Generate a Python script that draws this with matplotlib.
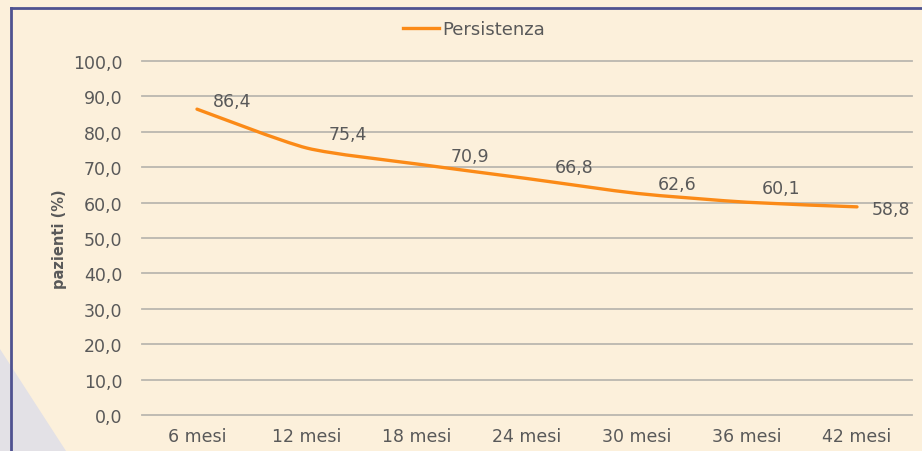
"""
Persistenza nel tempo - line chart, smooth curve like the Excel original.
"""

import matplotlib
matplotlib.use("Agg")
import matplotlib.pyplot as plt
from matplotlib.path import Path
from matplotlib.patches import PathPatch, Polygon
from matplotlib.lines import Line2D

# Data
months = ['6 mesi', '12 mesi', '18 mesi', '24 mesi', '30 mesi', '36 mesi', '42 mesi']
persistenza = [86.4, 75.4, 70.9, 66.8, 62.6, 60.1, 58.8]
y_ticks = [0, 10, 20, 30, 40, 50, 60, 70, 80, 90, 100]

# Label offsets in pixels (dx, dy) - hand placed in the original
label_offsets = [(16, 8), (22, 14), (34, 8), (28, 12), (21, 9), (15, 14), (15, -2)]

BG = '#FCF0DB'
ORANGE = '#FB8A17'
TEXT = '#595959'
GRID = '#BAB7AF'
FRAME = '#4F5290'
TENSION = 1 / 9  # smaller than Catmull-Rom's 1/6: tighter bends


def smooth_path(xs, ys):
    """Bezier path through the points (like Excel's smoothed line)."""
    pts = list(zip(xs, ys))
    n = len(pts)
    verts = [pts[0]]
    codes = [Path.MOVETO]
    for i in range(n - 1):
        p0 = pts[i - 1] if i > 0 else pts[i]
        p1 = pts[i]
        p2 = pts[i + 1]
        p3 = pts[i + 2] if i + 2 < n else pts[i + 1]
        c1 = (p1[0] + (p2[0] - p0[0]) * TENSION, p1[1] + (p2[1] - p0[1]) * TENSION)
        c2 = (p2[0] - (p3[0] - p1[0]) * TENSION, p2[1] - (p3[1] - p1[1]) * TENSION)
        verts += [c1, c2, p2]
        codes += [Path.CURVE4] * 3
    return Path(verts, codes)


fig = plt.figure(figsize=(9.22, 4.52), dpi=100)
fig.patch.set_facecolor(BG)

# Lavender corner and frame lines
W, H = 922, 452
fig.patches.append(Polygon([(0, 1 - 350 / H), (66 / W, 0), (0, 0)],
                           closed=True, transform=fig.transFigure,
                           facecolor='#E3E1E6', edgecolor='none', zorder=0))
fig.add_artist(Line2D([11 / W, 11 / W], [0, 1 - 9 / H], transform=fig.transFigure,
                      color=FRAME, linewidth=2))
fig.add_artist(Line2D([11 / W, 1], [1 - 9 / H, 1 - 9 / H], transform=fig.transFigure,
                      color=FRAME, linewidth=2))

ax = fig.add_axes([142 / W, 1 - 416 / H, 770 / W, 354 / H])
ax.set_facecolor('none')

x = list(range(len(months)))
for v in y_ticks:
    ax.axhline(v, color=GRID, linewidth=1.3, zorder=1, clip_on=False)

ax.add_patch(PathPatch(smooth_path(x, persistenza), facecolor='none',
                       edgecolor=ORANGE, linewidth=2.4, capstyle='round', zorder=3))

for xi, yi, (dx, dy) in zip(x, persistenza, label_offsets):
    ax.annotate(f"{yi:.1f}".replace('.', ','), (xi, yi), xytext=(dx * 0.72, dy * 0.72),
                textcoords='offset points', ha='left', va='center',
                fontsize=12.5, color=TEXT, zorder=4)

ax.set_xlim(-0.5, len(months) - 0.5)
ax.set_ylim(0, 100)
ax.set_xticks(x)
ax.set_xticklabels(months)
ax.set_yticks(y_ticks)
ax.set_yticklabels([f"{v:.1f}".replace('.', ',') for v in y_ticks])
ax.tick_params(length=0, labelsize=12.5, labelcolor=TEXT)
ax.tick_params(axis='y', pad=14)
ax.tick_params(axis='x', pad=9)
for s in ax.spines.values():
    s.set_visible(False)

ax.set_ylabel('pazienti (%)', fontsize=10.5, fontweight='bold', color=TEXT)
ax.yaxis.set_label_coords(-0.097, 0.5)

legend_handle = Line2D([], [], color=ORANGE, linewidth=2.4)
fig.legend([legend_handle], ['Persistenza'], loc='center', bbox_to_anchor=(474 / W, 1 - 30 / H),
           frameon=False, fontsize=13, labelcolor=TEXT, handlelength=2.0, handletextpad=0.2)

fig.savefig('out.png', dpi=100, facecolor=BG)
